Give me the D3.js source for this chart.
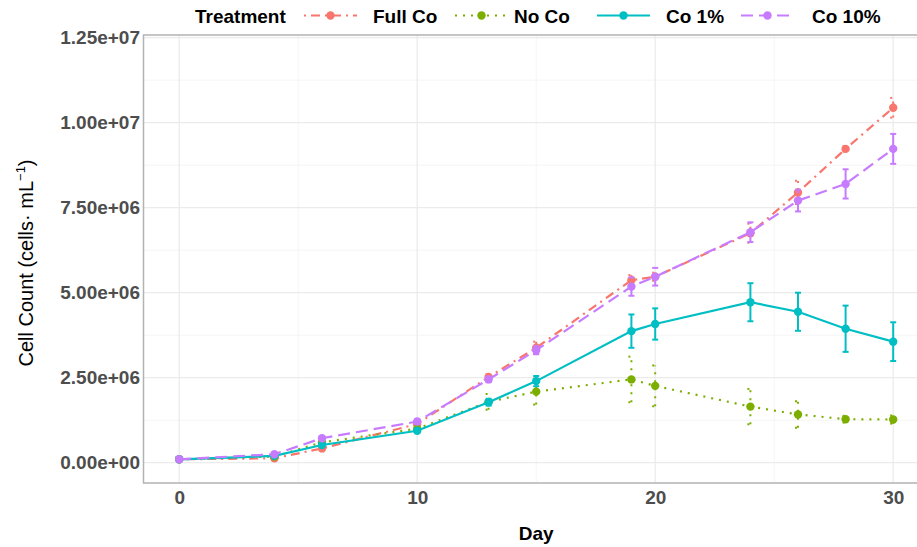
<!DOCTYPE html>
<html>
<head>
<meta charset="utf-8">
<script src="https://cdn.jsdelivr.net/npm/d3@7"></script>
<style>
  body { margin: 0; background: #fff; }
  text { font-family: "Liberation Sans", Arial, sans-serif; }
</style>
</head>
<body>
<div id="chart"></div>
<script>
// data
var days = [0, 4, 6, 10, 13, 15, 19, 20, 24, 26, 28, 30];
var treatments = ["Full Co", "No Co", "Co 1%", "Co 10%"];

var fullCoMean = [0.10e6, 0.13e6, 0.42e6, 1.14e6, 2.52e6, 3.38e6, 5.37e6, 5.47e6, 6.75e6, 7.95e6, 9.23e6, 10.44e6];
var fullCoErr  = [0.02e6, 0.03e6, 0.05e6, 0.06e6, 0.08e6, 0.18e6, 0.15e6, 0.12e6, 0.28e6, 0.34e6, 0.08e6, 0.29e6];
var noCoMean   = [0.10e6, 0.18e6, 0.60e6, 1.00e6, 1.79e6, 2.09e6, 2.45e6, 2.26e6, 1.65e6, 1.42e6, 1.28e6, 1.27e6];
var noCoErr    = [0.02e6, 0.03e6, 0.05e6, 0.06e6, 0.23e6, 0.38e6, 0.67e6, 0.60e6, 0.52e6, 0.39e6, 0.10e6, 0.12e6];
var co1Mean    = [0.10e6, 0.20e6, 0.52e6, 0.94e6, 1.78e6, 2.40e6, 3.87e6, 4.08e6, 4.72e6, 4.44e6, 3.94e6, 3.56e6];
var co1Err     = [0.02e6, 0.03e6, 0.05e6, 0.05e6, 0.10e6, 0.15e6, 0.49e6, 0.46e6, 0.56e6, 0.56e6, 0.68e6, 0.57e6];
var co10Mean   = [0.10e6, 0.25e6, 0.72e6, 1.21e6, 2.45e6, 3.31e6, 5.18e6, 5.47e6, 6.78e6, 7.71e6, 8.20e6, 9.23e6];
var co10Err    = [0.02e6, 0.03e6, 0.05e6, 0.06e6, 0.08e6, 0.12e6, 0.27e6, 0.26e6, 0.29e6, 0.32e6, 0.43e6, 0.44e6];

var xTicks = [0, 10, 20, 30];
var yTicks = [0, 2.5e6, 5e6, 7.5e6, 1e7, 1.25e7];
var yTickLabels = ["0.00e+00", "2.50e+06", "5.00e+06", "7.50e+06", "1.00e+07", "1.25e+07"];

var colors = ["#F8766D", "#7CAE00", "#00BFC4", "#C77CFF"];
var dashes = ["2,5,9,5", "2,6", null, "12,6"];

var series = [
  { name: treatments[0], mean: fullCoMean, err: fullCoErr },
  { name: treatments[1], mean: noCoMean, err: noCoErr },
  { name: treatments[2], mean: co1Mean, err: co1Err },
  { name: treatments[3], mean: co10Mean, err: co10Err }
];
series.forEach(function(s, i) {
  s.color = colors[i];
  s.dash = dashes[i];
  s.values = days.map(function(d, j) { return { day: d, mean: s.mean[j], err: s.err[j] }; });
});

var width = 917, height = 547;
var panel = { left: 143.5, top: 35, bottom: 483 };

var svg = d3.select("#chart")
  .append("svg")
  .attr("width", width)
  .attr("height", height);

var x = d3.scaleLinear()
  .domain([-1.5, 31.5])
  .range([panel.left, panel.left + 33 * 23.8]);

var y = d3.scaleLinear()
  .domain([-0.597e6, 12.58e6])
  .range([panel.bottom, panel.top]);

// grid
var grid = svg.append("g");
var xMinor = [5, 15, 25];
var yMinor = [1.25e6, 3.75e6, 6.25e6, 8.75e6, 1.125e7];

grid.selectAll(".xminor").data(xMinor).enter().append("line")
  .attr("x1", function(d) { return x(d); }).attr("x2", function(d) { return x(d); })
  .attr("y1", panel.top).attr("y2", panel.bottom)
  .attr("stroke", "#f5f5f5").attr("stroke-width", 1);
grid.selectAll(".yminor").data(yMinor).enter().append("line")
  .attr("x1", panel.left).attr("x2", width)
  .attr("y1", function(d) { return y(d); }).attr("y2", function(d) { return y(d); })
  .attr("stroke", "#f5f5f5").attr("stroke-width", 1);
grid.selectAll(".xmajor").data(xTicks).enter().append("line")
  .attr("x1", function(d) { return x(d); }).attr("x2", function(d) { return x(d); })
  .attr("y1", panel.top).attr("y2", panel.bottom)
  .attr("stroke", "#ebebeb").attr("stroke-width", 1.3);
grid.selectAll(".ymajor").data(yTicks).enter().append("line")
  .attr("x1", panel.left).attr("x2", width)
  .attr("y1", function(d) { return y(d); }).attr("y2", function(d) { return y(d); })
  .attr("stroke", "#ebebeb").attr("stroke-width", 1.3);

// panel border (right side falls outside the picture)
svg.append("path")
  .attr("d", "M" + width + "," + panel.top + "H" + panel.left + "V" + panel.bottom + "H" + width)
  .attr("fill", "none")
  .attr("stroke", "#b3b3b3")
  .attr("stroke-width", 1.5);

// axes
var xAxis = d3.axisBottom(x).tickValues(xTicks).tickSize(0).tickPadding(8);
svg.append("g")
  .attr("class", "axis x-axis")
  .attr("transform", "translate(0," + panel.bottom + ")")
  .call(xAxis)
  .call(function(g) { g.select(".domain").remove(); })
  .selectAll("text")
  .attr("font-size", 19).attr("font-weight", "bold").attr("fill", "#4d4d4d")
  .style("font-family", "Liberation Sans, Arial, sans-serif");

var yAxis = d3.axisLeft(y).tickValues(yTicks).tickSize(0).tickPadding(3.5)
  .tickFormat(function(d, i) { return yTickLabels[i]; });
svg.append("g")
  .attr("class", "axis y-axis")
  .attr("transform", "translate(" + panel.left + ",0)")
  .call(yAxis)
  .call(function(g) { g.select(".domain").remove(); })
  .selectAll("text")
  .attr("font-size", 19).attr("font-weight", "bold").attr("fill", "#4d4d4d")
  .style("font-family", "Liberation Sans, Arial, sans-serif");

// titles
svg.append("text")
  .attr("x", x(15)).attr("y", 540)
  .attr("text-anchor", "middle")
  .attr("font-size", 19).attr("font-weight", "bold")
  .text("Day");

var yTitle = svg.append("text")
  .attr("transform", "translate(33,263) rotate(-90)")
  .attr("text-anchor", "middle")
  .attr("font-size", 20);
yTitle.append("tspan").text("Cell Count (cells\u00b7 mL");
yTitle.append("tspan").attr("font-size", 13).attr("dy", -8).text("\u22121");
yTitle.append("tspan").attr("dy", 8).text(")");

// lines, error bars, points
var line = d3.line()
  .x(function(d) { return x(d.day); })
  .y(function(d) { return y(d.mean); });

var groups = svg.selectAll(".series")
  .data(series)
  .enter().append("g")
  .attr("class", "series");

groups.append("path")
  .attr("d", function(d) { return line(d.values); })
  .attr("fill", "none")
  .attr("stroke", function(d) { return d.color; })
  .attr("stroke-width", 2.2)
  .attr("stroke-dasharray", function(d) { return d.dash; });

groups.each(function(s) {
  var g = d3.select(this);
  var eb = g.selectAll(".eb").data(s.values).enter().append("g")
    .attr("stroke", s.color).attr("stroke-width", 2)
    .attr("stroke-dasharray", s.dash);
  eb.append("line")
    .attr("x1", function(d) { return x(d.day); }).attr("x2", function(d) { return x(d.day); })
    .attr("y1", function(d) { return y(d.mean - d.err); })
    .attr("y2", function(d) { return y(d.mean + d.err); });
  eb.append("line")
    .attr("x1", function(d) { return x(d.day) - 3; }).attr("x2", function(d) { return x(d.day) + 3; })
    .attr("y1", function(d) { return y(d.mean + d.err); })
    .attr("y2", function(d) { return y(d.mean + d.err); });
  eb.append("line")
    .attr("x1", function(d) { return x(d.day) - 3; }).attr("x2", function(d) { return x(d.day) + 3; })
    .attr("y1", function(d) { return y(d.mean - d.err); })
    .attr("y2", function(d) { return y(d.mean - d.err); });
  g.selectAll("circle").data(s.values).enter().append("circle")
    .attr("cx", function(d) { return x(d.day); })
    .attr("cy", function(d) { return y(d.mean); })
    .attr("r", 4.2)
    .attr("fill", s.color);
});

// legend
var legend = svg.append("g").attr("class", "legend");
legend.append("text")
  .attr("x", 195).attr("y", 22.5)
  .attr("font-size", 19).attr("font-weight", "bold")
  .text("Treatment");

var keyX = [304, 455, 597, 741];
var labelX = [373, 514, 666, 812];
var items = legend.selectAll(".item").data(series).enter().append("g");
items.append("line")
  .attr("x1", function(d, i) { return keyX[i]; })
  .attr("x2", function(d, i) { return keyX[i] + 53; })
  .attr("y1", 15.5).attr("y2", 15.5)
  .attr("stroke", function(d) { return d.color; })
  .attr("stroke-width", 2.2)
  .attr("stroke-dasharray", function(d) { return d.dash; });
items.append("circle")
  .attr("cx", function(d, i) { return keyX[i] + 26.5; })
  .attr("cy", 15.5).attr("r", 4.2)
  .attr("fill", function(d) { return d.color; });
items.append("text")
  .attr("x", function(d, i) { return labelX[i]; })
  .attr("y", 22.5)
  .attr("font-size", 19).attr("font-weight", "bold")
  .text(function(d) { return d.name; });
</script>
</body>
</html>
